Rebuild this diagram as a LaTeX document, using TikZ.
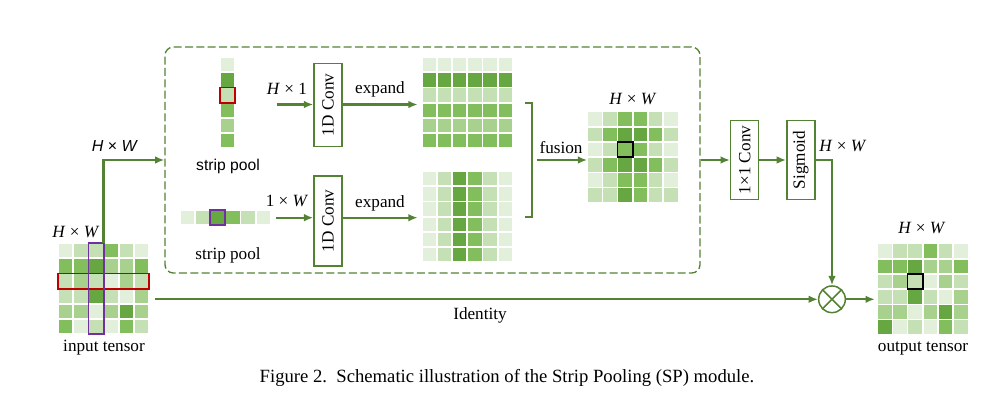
\documentclass[tikz,border=0pt]{standalone}
\usepackage{graphicx}
\usepackage{fontspec}
\setmainfont{Liberation Serif}
\setsansfont{Liberation Sans}
\usetikzlibrary{arrows.meta,calc}
\definecolor{gA}{HTML}{E2EFDA}
\definecolor{gB}{HTML}{C5E0B4}
\definecolor{gC}{HTML}{A9D18E}
\definecolor{gD}{HTML}{82BF5C}
\definecolor{gE}{HTML}{66A742}
\definecolor{ln}{HTML}{548235}
\definecolor{redb}{HTML}{C00000}
\definecolor{purb}{HTML}{7030A0}
% #1 name, #2 cx, #3 cy, #4 ncols, #5 nrows, #6 rows of colours
\newcommand\tgrid[6]{%
  \node[inner sep=0, minimum width=#4*9.12pt, minimum height=#5*9.12pt] (#1) at (#2,#3) {};
  \foreach \row [count=\r from 0] in {#6}{
    \foreach \cl [count=\k from 0] in \row {
      \path[fill=\cl, draw=white, line width=1pt] ($(#1.north west)+(\k*15.2,\r*15.2)$) rectangle +(15.2,15.2);
    }
  }
}
% #1 node, #2 col, #3 row, #4 ncols, #5 nrows, #6 colour
\newcommand\hlbox[6]{%
  \draw[#6, line width=1pt] ($(#1.north west)+(#2*15.2,#3*15.2)$) rectangle +(#4*15.2,#5*15.2);
}
\tikzset{
 conn/.style={draw=ln, line width=1.3pt},
 arr/.style={conn, -{Latex[length=5.6pt,width=4.6pt]}},
 box/.style={draw=ln, line width=0.9pt, fill=white, inner sep=0, minimum width=16.8pt},
 lbl/.style={font=\fontsize{10.3}{12}\selectfont, inner sep=0},
 slbl/.style={font=\sffamily\fontsize{9.4}{11}\selectfont, inner sep=0},
}
\begin{document}
\begin{tikzpicture}[x=0.6pt,y=-0.6pt]
\useasboundingbox (0,0) rectangle (1008,412);

% dashed module box
\node[draw=ln, line width=0.8pt, dash pattern=on 4.8pt off 2pt, rounded corners=5pt,
      minimum width=321pt, minimum height=135.6pt, inner sep=0] (dash) at (432.5,160) {};

% input tensor
\tgrid{inp}{104}{289}{6}{6}{{gA,gB,gB,gD,gB,gA},{gD,gD,gE,gC,gC,gD},{gB,gC,gB,gA,gC,gB},{gB,gB,gE,gB,gA,gC},{gC,gC,gA,gC,gE,gC},{gD,gA,gB,gA,gD,gB}}
\hlbox{inp}{0}{2}{6}{1}{redb}
\hlbox{inp}{2}{0}{1}{6}{purb}
\node[lbl] (inhw) at (76,232) {\textit{H} × \textit{W}};
\node[lbl] (intxt) at (104,348) {input tensor};

% strips
\tgrid{tstrip}{227.6}{103}{1}{6}{{gA},{gE},{gB},{gD},{gC},{gD}}
\hlbox{tstrip}{0}{2}{1}{1}{redb}
\node[slbl] (tsp) at (228,166) {strip pool};
\tgrid{bstrip}{225.6}{218}{6}{1}{{gA,gB,gE,gD,gB,gA}}
\hlbox{bstrip}{2}{0}{1}{1}{purb}
\node[lbl] (bsp) at (228,255) {strip pool};

% conv boxes
\node[box, minimum height=50pt] (tconv) at (328,105) {\rotatebox{90}{\fontsize{10.3}{12}\selectfont 1D Conv}};
\node[box, minimum height=54pt] (bconv) at (328,221) {\rotatebox{90}{\fontsize{10.3}{12}\selectfont 1D Conv}};
\node[lbl] (h1) at (287,89) {\textit{H} × 1};
\node[lbl] (w1) at (287,201) {1 × \textit{W}};

% expanded grids
\tgrid{texp}{467.6}{103}{6}{6}{{gA,gA,gA,gA,gA,gA},{gE,gE,gE,gE,gE,gE},{gB,gB,gB,gB,gB,gB},{gD,gD,gD,gD,gD,gD},{gC,gC,gC,gC,gC,gC},{gD,gD,gD,gD,gD,gD}}
\tgrid{bexp}{467.6}{217}{6}{6}{{gA,gB,gE,gD,gB,gA},{gA,gB,gE,gD,gB,gA},{gA,gB,gE,gD,gB,gA},{gA,gB,gE,gD,gB,gA},{gA,gB,gE,gD,gB,gA},{gA,gB,gE,gD,gB,gA}}
\node[lbl] (ex1) at (380,89) {expand};
\node[lbl] (ex2) at (380,203) {expand};

% fusion grid
\tgrid{fus}{633.1}{157.5}{6}{6}{{gA,gB,gD,gD,gB,gA},{gB,gD,gE,gE,gD,gB},{gA,gB,gD,gD,gB,gA},{gB,gD,gE,gE,gD,gB},{gA,gB,gD,gD,gB,gA},{gB,gB,gE,gD,gB,gB}}
\hlbox{fus}{2}{2}{1}{1}{black}
\node[lbl] (fushw) at (633,99) {\textit{H} × \textit{W}};
\node[lbl] (fustxt) at (561,148) {fusion};

% 1x1 conv and sigmoid
\node[box, minimum height=47.2pt] (c11) at (744.7,160) {\rotatebox{90}{\fontsize{10.3}{12}\selectfont 1×1 Conv}};
\node[box, minimum height=47.2pt] (sig) at (800.8,160) {\rotatebox{90}{\fontsize{10.3}{12}\selectfont Sigmoid}};
\node[lbl] (sighw) at (843,146) {\textit{H} × \textit{W}};

% multiplication
\node[circle, draw=ln, line width=0.9pt, minimum size=16pt, inner sep=0, fill=white] (mul) at (832,299.3) {};
\draw[ln, line width=0.9pt] (mul.north west) -- (mul.south east) (mul.north east) -- (mul.south west);

% output tensor
\tgrid{out}{923.1}{289.5}{6}{6}{{gA,gB,gB,gD,gB,gA},{gD,gD,gE,gC,gC,gD},{gB,gC,gB,gA,gC,gB},{gB,gB,gE,gB,gA,gC},{gC,gC,gA,gC,gE,gC},{gE,gA,gB,gA,gD,gB}}
\hlbox{out}{2}{2}{1}{1}{black}
\node[lbl] (outhw) at (922,228) {\textit{H} × \textit{W}};
\node[lbl] (outtxt) at (923,348) {output tensor};

% connectors
\coordinate (instart) at (103.5,243.4);
\draw[arr] (instart) |- (dash.west);
\node[font=\sffamily\fontsize{9.6}{11}\selectfont, inner sep=0] (inlbl) at (115,146) {\textit{H} × \textit{W}};

\coordinate (a1) at (276.7,104.5);
\draw[arr] (a1) -- (a1 -| tconv.west);
\draw[arr, shorten >=2.4pt] (a1 -| tconv.east) -- (a1 -| texp.west);
\coordinate (a2) at (275.7,217.7);
\draw[arr] (a2) -- (a2 -| bconv.west);
\draw[arr, shorten >=2.4pt] (a2 -| bconv.east) -- (a2 -| bexp.west);

\draw[conn] ([xshift=7pt]texp.east) -- ++(7,0) |- ([xshift=7pt]bexp.east);
\coordinate (bm) at (536.7,160);
\draw[arr] (bm) -- (bm -| fus.west);

\draw[arr] (dash.east) -- (c11.west);
\draw[arr] (c11.east) -- (sig.west);
\draw[arr] (sig.east) -| (mul.north);

\coordinate (idstart) at (155,299.3);
\draw[arr] (idstart) -- (mul.west);
\node[lbl] (idlbl) at (480,315) {Identity};
\draw[arr, shorten >=1.4pt] (mul.east) -- (mul.east -| out.west);

% caption
\node[font=\fontsize{11.2}{13}\selectfont, inner sep=0] (cap) at (507,378) {Figure 2.\ \ Schematic illustration of the Strip Pooling (SP) module.};
\end{tikzpicture}
\end{document}
